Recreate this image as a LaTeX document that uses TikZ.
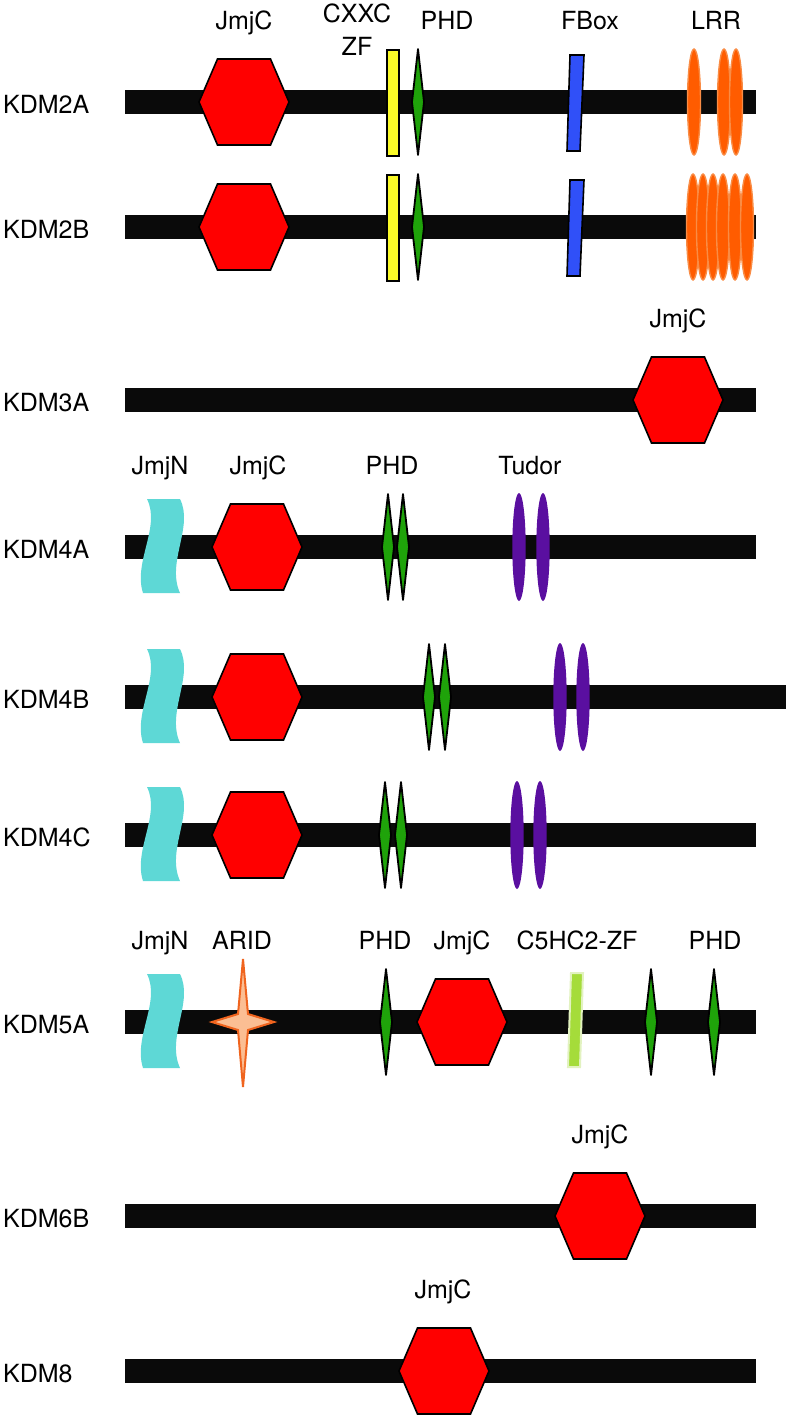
\documentclass[tikz,border=0pt]{standalone}
\usepackage{fontspec}
\setmainfont{TeX Gyre Heros}
\usepackage{tikz}
\usetikzlibrary{positioning}
\definecolor{barblack}{HTML}{0A0A0A}
\definecolor{hexred}{HTML}{FF0000}
\definecolor{phdgreen}{HTML}{1FA30A}
\definecolor{lrrorange}{HTML}{FF5C00}
\definecolor{lrredge}{HTML}{F98C45}
\definecolor{tudorpurple}{HTML}{5A0FA0}
\definecolor{jmjncyan}{HTML}{5ED8D6}
\definecolor{fboxblue}{HTML}{3050F8}
\definecolor{cxxcyellow}{HTML}{FAFA28}
\definecolor{aridfill}{HTML}{FBBE93}
\definecolor{aridedge}{HTML}{F0641E}
\definecolor{zfgreen}{HTML}{A5DC3A}
\definecolor{zfedge}{HTML}{E2F2C0}
\tikzset{
protein/.style={fill=barblack},
hexa/.style={fill=hexred, draw=black, line width=1.6pt, line join=miter},
phdd/.style={fill=phdgreen, draw=black, line width=1.8pt, line join=round},
lrrd/.style={fill=lrrorange, draw=lrredge, line width=1.4pt},
tud/.style={fill=tudorpurple},
wave/.style={fill=jmjncyan},
fboxd/.style={fill=fboxblue, draw=black, line width=1.6pt},
cxxcd/.style={fill=cxxcyellow, draw=black, line width=1.6pt},
aridd/.style={fill=aridfill, draw=aridedge, line width=2pt, line join=miter},
zfd/.style={fill=zfgreen, draw=zfedge, line width=2pt},
dlab/.style={font=\fontsize{25}{30}\selectfont, anchor=base, inner sep=0pt},
rname/.style={font=\fontsize{25}{30}\selectfont, anchor=base west, inner sep=0pt}
}
\newcommand{\hexdom}[2]{\draw[hexa,shift={(#1,#2)}] (-45,0) -- (-26.5,-43) -- (26.5,-43) -- (45,0) -- (26.5,43) -- (-26.5,43) -- cycle;}
\newcommand{\phddom}[2]{\draw[phdd,shift={(#1,#2)}] (0,-53) -- (6,0) -- (0,53) -- (-6,0) -- cycle;}
\newcommand{\tudordom}[2]{\fill[tud] (#1,#2) ellipse [x radius=6.7pt, y radius=54pt];}
\newcommand{\lrrdom}[2]{\filldraw[lrrd] (#1,#2) ellipse [x radius=6.5pt, y radius=53pt];}
\newcommand{\wavedom}[1]{\fill[wave,shift={(0,#1)}] (147,-48) -- (180,-48) .. controls (194,-20) and (166,15) .. (180,46) -- (143,46) .. controls (133,15) and (161,-20) .. (147,-48) -- cycle;}
\newcommand{\fboxdom}[1]{\draw[fboxd,shift={(0,#1)}] (570,-47) -- (584,-47) -- (580,49) -- (567,49) -- cycle;}
\newcommand{\cxxcdom}[1]{\draw[cxxcd,shift={(0,#1)}] (387,-52) rectangle (399,54);}

\begin{document}
\begin{tikzpicture}[x=1pt,y=-1pt]
\useasboundingbox (0,0) rectangle (786,1416);

% protein backbones and names
\foreach \nm/\y/\len in {KDM2A/102/756, KDM2B/227/756, KDM3A/400/756, KDM4A/547/756, KDM4B/697/786, KDM4C/835/756, KDM5A/1022/756, KDM6B/1216/756, KDM8/1371/756}{
	\fill[protein] (125,\y-12) rectangle (\len,\y+12);
	\node[rname] (n\nm) at (3,\y+11) {\nm};
}

% KDM2A, KDM2B
\foreach \y in {102,227}{
	\hexdom{244}{\y}
	\cxxcdom{\y}
	\phddom{418}{\y}
	\fboxdom{\y}
}
\foreach \x in {694,724,736}{ \lrrdom{\x}{102} }
\foreach \x in {693,703,713,723,735,747}{ \lrrdom{\x}{227} }
\node[dlab] (l2jmjc) at (244,29) {JmjC};
\node[dlab] (l2cxxc) at (357,23) {CXXC};
\node[dlab] (l2zf) at (357,55) {ZF};
\node[dlab] (l2phd) at (447,29) {PHD};
\node[dlab] (l2fbox) at (590,29) {FBox};
\node[dlab] (l2lrr) at (716,29) {LRR};

% KDM3A
\hexdom{678}{400}
\node[dlab] (l3jmjc) at (678,327) {JmjC};

% KDM4A, KDM4B, KDM4C
\foreach \y/\pa/\pb/\ta/\tb in {547/388/403/519/543, 697/429/445/560/583, 835/385/401/517/540}{
	\wavedom{\y}
	\hexdom{257}{\y}
	\phddom{\pa}{\y}
	\phddom{\pb}{\y}
	\tudordom{\ta}{\y}
	\tudordom{\tb}{\y}
}
\node[dlab] (l4jmjn) at (160,474) {JmjN};
\node[dlab] (l4jmjc) at (258,474) {JmjC};
\node[dlab] (l4phd) at (392,474) {PHD};
\node[dlab] (l4tudor) at (530,474) {Tudor};

% KDM5A
\wavedom{1022}
\draw[aridd,shift={(243,1022)}] (0,-63) -- (5,-8) -- (31,0) -- (5,8) -- (0,65) -- (-5,8) -- (-31,0) -- (-5,-8) -- cycle;
\phddom{386}{1022}
\hexdom{462}{1022}
\draw[zfd,shift={(0,1022)}] (571,-49) -- (583,-49) -- (580,45) -- (568,45) -- cycle;
\phddom{651}{1022}
\phddom{714}{1022}
\node[dlab] (l5jmjn) at (160,949) {JmjN};
\node[dlab] (l5arid) at (242,949) {ARID};
\node[dlab] (l5phda) at (385,949) {PHD};
\node[dlab] (l5jmjc) at (462,949) {JmjC};
\node[dlab] (l5zf) at (577,949) {C5HC2-ZF};
\node[dlab] (l5phdb) at (715,949) {PHD};

% KDM6B, KDM8
\hexdom{600}{1216}
\node[dlab] (l6jmjc) at (600,1143) {JmjC};
\hexdom{444}{1371}
\node[dlab] (l8jmjc) at (443,1298) {JmjC};
\end{tikzpicture}
\end{document}
